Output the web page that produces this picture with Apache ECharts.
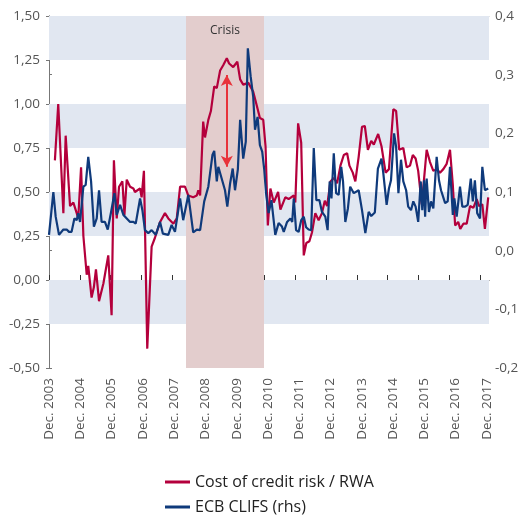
<!DOCTYPE html>
<html>
<head>
<meta charset="utf-8">
<script src="https://cdn.jsdelivr.net/npm/echarts@6/dist/echarts.min.js"></script>
<style>
  html, body { margin: 0; padding: 0; background: #fff; }
  #main { width: 519px; height: 518px; }
</style>
</head>
<body>
<div id="main"></div>
<script>
// months counted from Dec. 2003
var yearLabels = ['2003', '2004', '2005', '2006', '2007', '2008', '2009', '2010',
    '2011', '2012', '2013', '2014', '2015', '2016', '2017'];

// Cost of credit risk / RWA (lhs)
var redMonth = [2.3, 3.6, 5.6, 6.5, 8.2, 9.5, 10.8, 11.4, 12.5, 13.4, 14.7, 15.3, 16.6, 17.5, 18.3, 19.5,
    21.2, 23.1, 24.4, 25.3, 26.4, 27.3, 28.6, 29.4, 30.3, 31.6, 32.9, 33.5, 35.5, 36.1, 37.0, 38.3,
    40.0, 41.3, 43.3, 45.2, 46.5, 48.5, 49.8, 51.1, 53.0, 54.3, 56.2, 57.6, 58.2, 58.9, 60.1, 60.8,
    62.1, 63.1, 64.4, 65.4, 66.7, 67.9, 69.3, 70.2, 71.8, 73.4, 74.5, 75.7, 77.7, 79.6, 81.0, 82.2,
    83.5, 84.4, 85.3, 86.3, 87.6, 89.3, 90.2, 92.1, 93.4, 95.4, 96.0, 97.1, 98.3, 99.3, 100.3, 101.5,
    102.5, 103.8, 105.1, 106.4, 107.5, 108.4, 109.7, 111.0, 112.3, 113.6, 114.9, 116.2, 117.1, 118.4,
    119.4, 120.7, 122.0, 123.1, 124.3, 125.6, 126.6, 128.3, 129.6, 131.2, 132.5, 134.2, 135.3, 136.5,
    138.1, 139.4, 140.7, 141.8, 142.9, 143.9, 145.3, 147.2, 148.5, 149.8, 151.1, 152.4, 153.7, 155.0,
    156.3, 157.4, 158.3, 159.5, 160.3, 161.5, 162.8, 164.1, 165.4, 166.7, 167.6, 168.9, 169.9, 171.2];
var redVal = [0.68, 1.00, 0.38, 0.82, 0.42, 0.44, 0.38, 0.35, 0.64, 0.25, 0.03, 0.08, -0.10, -0.04, 0.06, -0.12,
    -0.02, 0.14, -0.20, 0.68, 0.35, 0.53, 0.56, 0.37, 0.57, 0.53, 0.52, 0.50, 0.52, 0.47, 0.62, -0.39,
    0.19, 0.24, 0.33, 0.38, 0.35, 0.32, 0.35, 0.53, 0.53, 0.48, 0.47, 0.48, 0.51, 0.48, 0.90, 0.81,
    0.91, 0.96, 1.10, 1.09, 1.19, 1.22, 1.26, 1.23, 1.21, 1.24, 1.14, 1.11, 1.12, 1.07, 0.99, 0.92,
    0.91, 0.76, 0.31, 0.52, 0.44, 0.50, 0.40, 0.47, 0.46, 0.48, 0.44, 0.89, 0.78, 0.14, 0.21, 0.22,
    0.27, 0.38, 0.34, 0.38, 0.45, 0.42, 0.56, 0.58, 0.55, 0.65, 0.71, 0.72, 0.65, 0.61,
    0.56, 0.70, 0.87, 0.875, 0.74, 0.79, 0.77, 0.83, 0.76, 0.61, 0.63, 0.97, 0.96, 0.74,
    0.75, 0.64, 0.65, 0.71, 0.69, 0.62, 0.43, 0.74, 0.67, 0.62, 0.63, 0.61, 0.63, 0.66,
    0.74, 0.54, 0.31, 0.33, 0.29, 0.32, 0.32, 0.42, 0.41, 0.46, 0.42, 0.43, 0.29, 0.47];

// ECB CLIFS (rhs)
var blueMonth = [0, 1.7, 2.6, 3.9, 5.6, 6.9, 7.8, 8.8, 9.9, 10.8, 11.4, 12.1, 13.4, 14.3, 15.3, 16.4, 17.5,
    18.6, 19.5, 20.5, 21.8, 22.9, 24.2, 25.5, 26.4, 27.7, 29.0, 30.3, 31.6, 32.9, 33.8, 35.5, 36.4,
    37.4, 38.7, 40.0, 41.6, 43.3, 44.4, 46.5, 47.8, 49.1, 51.1, 52.3, 54.3, 56.2, 57.6, 58.9, 60.5,
    62.1, 63.7, 64.4, 65.4, 66.0, 67.3, 68.6, 69.5, 70.6, 71.6, 72.5, 73.6, 74.5, 75.7, 76.7, 77.5,
    78.6, 79.6, 80.3, 81.3, 82.2, 83.1, 83.9, 84.6, 85.6, 86.7, 88.2, 89.5, 90.8, 91.5, 92.8, 94.1,
    94.8, 95.4, 96.3, 97.3, 98.3, 99.3, 100.2, 101.2, 102.2, 103.2, 104.2, 105.4, 106.4, 107.7, 108.6,
    109.4, 110.1, 111.0, 111.9, 112.9, 113.9, 114.6, 115.5, 116.5, 117.4, 118.8, 120.7, 122.0, 123.3,
    124.6, 125.6, 127.0, 128.2, 129.6, 130.3, 131.6, 132.5, 133.3, 134.5, 135.3, 136.2, 137.2, 138.1,
    139.2, 140.0, 141.1, 142.0, 142.9, 143.9, 144.9, 145.5, 146.2, 146.6, 147.2, 148.1, 148.9, 149.8,
    151.1, 152.0, 152.8, 154.4, 155.4, 156.3, 157.4, 158.0, 158.9, 160.2, 161.1, 162.2, 163.2, 164.4,
    165.2, 166.0, 166.9, 168.0, 168.9, 169.9, 171.2];
var blueVal = [0.027, 0.100, 0.058, 0.027, 0.036, 0.036, 0.032, 0.032, 0.055, 0.052, 0.064, 0.049, 0.109, 0.112, 0.160, 0.118, 0.041,
    0.055, 0.103, 0.049, 0.049, 0.036, 0.066, 0.098, 0.061, 0.078, 0.061, 0.055, 0.049, 0.049, 0.046, 0.089, 0.069,
    0.035, 0.030, 0.035, 0.027, 0.049, 0.029, 0.027, 0.044, 0.032, 0.089, 0.052, 0.095, 0.031, 0.036, 0.035, 0.084,
    0.109, 0.163, 0.170, 0.118, 0.143, 0.123, 0.103, 0.075, 0.115, 0.140, 0.103, 0.138, 0.223, 0.157, 0.186, 0.345,
    0.297, 0.262, 0.206, 0.228, 0.180, 0.169, 0.138, 0.098, 0.064, 0.086, 0.027, 0.047, 0.041, 0.032, 0.049, 0.055,
    0.049, 0.089, 0.035, 0.032, 0.052, 0.058, 0.040, 0.036, 0.035, 0.175, 0.086, 0.086, 0.066, 0.058, 0.035,
    0.118, 0.089, 0.166, 0.098, 0.095, 0.143, 0.118, 0.049, 0.072, 0.109, 0.098, 0.103, 0.069, 0.030,
    0.066, 0.059, 0.065, 0.140, 0.157, 0.132, 0.078, 0.106, 0.120, 0.200, 0.177, 0.098, 0.155, 0.118,
    0.103, 0.075, 0.069, 0.084, 0.075, 0.049, 0.118, 0.069, 0.120, 0.058, 0.123, 0.066, 0.084, 0.072,
    0.160, 0.120, 0.103, 0.081, 0.084, 0.143, 0.061, 0.089, 0.058, 0.109, 0.075, 0.075, 0.078, 0.123,
    0.084, 0.120, 0.064, 0.055, 0.143, 0.103, 0.106];

var crisisSpan = [53.4, 83.8];
var arrowSpan = [69.3, 0.644, 1.165];
var bands = [[1.25, 1.5], [0.75, 1.0], [0.25, 0.5], [-0.25, 0]];
var seriesNames = ['Cost of credit risk / RWA', 'ECB CLIFS (rhs)'];

var redColor = '#b4003c', blueColor = '#0f3a7b', bandColor = '#e1e7f1';
var font = 'Open Sans';

function pairs(xs, ys) {
    var out = [];
    for (var i = 0; i < xs.length; i++) out.push([xs[i], ys[i]]);
    return out;
}

var tickValues = yearLabels.map(function (y, i) { return i * 12; });

var areaData = bands.map(function (b) {
    return [{ yAxis: b[0], itemStyle: { color: bandColor } }, { yAxis: b[1] }];
});
areaData.push([
    { xAxis: crisisSpan[0], yAxis: -0.5, itemStyle: { color: '#e3cdcd' },
      label: { show: true, position: 'insideTop', distance: 9, formatter: 'Crisis',
               color: '#333', fontSize: 12, fontFamily: font } },
    { xAxis: crisisSpan[1], yAxis: 1.5 }
]);

// one legend per row so the rows keep the reference spacing
function legendRow(name, top) {
    return {
        left: 165, top: top, padding: 0,
        itemWidth: 25, itemHeight: 3, icon: 'rect', itemGap: 0,
        textStyle: { fontFamily: font, fontSize: 16, color: '#222' },
        data: [name]
    };
}

var myChart = echarts.init(document.getElementById('main'));

var option = {
    animation: false,
    grid: { left: 49, right: 30, top: 16, bottom: 150, outerBoundsMode: 'none' },
    legend: [legendRow(seriesNames[0], 474), legendRow(seriesNames[1], 499)],
    xAxis: [{
        // label axis only; labels in the reference run a little wider than the ticks
        type: 'value', min: 0, max: 168.8, interval: 12,
        axisLine: { show: false, onZero: false }, axisTick: { show: false }, splitLine: { show: false },
        axisLabel: {
            rotate: 90, margin: 10, fontFamily: font, fontSize: 13.5, color: '#555',
            customValues: tickValues,
            formatter: function (v) { return 'Dec. ' + yearLabels[Math.round(v / 12)]; }
        }
    }, {
        type: 'value', min: 0, max: 171.5, interval: 12,
        axisLine: { show: true, onZero: true, onZeroAxisIndex: 0, lineStyle: { color: '#333', width: 1 } },
        axisTick: { show: true, length: 5, customValues: tickValues, lineStyle: { color: '#333' } },
        axisLabel: { show: false }, splitLine: { show: false }
    }, {
        type: 'value', position: 'top', min: 0, max: 171.5,
        axisLine: { show: true, onZero: false, lineStyle: { color: '#bbb', width: 1 } },
        axisTick: { show: false }, axisLabel: { show: false }, splitLine: { show: false }
    }],
    yAxis: [{
        type: 'value', min: -0.5, max: 1.5, interval: 0.25,
        axisLine: { show: true, lineStyle: { color: '#777' } },
        axisTick: { show: true, length: 3, lineStyle: { color: '#777' } },
        splitLine: { show: false },
        axisLabel: {
            margin: 9, fontFamily: font, fontSize: 13.5, color: '#555',
            formatter: function (v) { return v.toFixed(2).replace('.', ','); }
        }
    }, {
        type: 'value', min: -0.2, max: 0.4, interval: 0.1, position: 'right',
        axisLine: { show: true, lineStyle: { color: '#777' } },
        axisTick: { show: true, length: 3, lineStyle: { color: '#777' } },
        splitLine: { show: false },
        axisLabel: {
            margin: 6, fontFamily: font, fontSize: 13.5, color: '#555',
            formatter: function (v) { return v.toFixed(1).replace('.', ','); }
        }
    }],
    series: [{
        name: seriesNames[0],
        type: 'line', xAxisIndex: 1, yAxisIndex: 0,
        data: pairs(redMonth, redVal),
        showSymbol: false, color: redColor,
        lineStyle: { width: 2.2, color: redColor },
        markArea: { silent: true, data: areaData },
        markLine: {
            silent: true, symbol: ['arrow', 'arrow'], symbolSize: [9, 11],
            label: { show: false },
            lineStyle: { color: '#e8333a', width: 2, type: 'solid' },
            data: [[{ coord: [arrowSpan[0], arrowSpan[1]] }, { coord: [arrowSpan[0], arrowSpan[2]] }]]
        }
    }, {
        name: seriesNames[1],
        type: 'line', xAxisIndex: 1, yAxisIndex: 1,
        data: pairs(blueMonth, blueVal),
        showSymbol: false, color: blueColor,
        lineStyle: { width: 2.2, color: blueColor }
    }]
};

myChart.setOption(option);
</script>
</body>
</html>
